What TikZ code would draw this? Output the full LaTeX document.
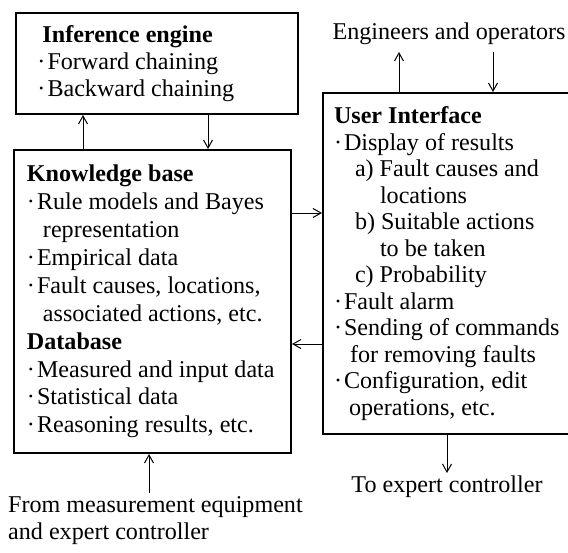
\documentclass[tikz,border=0pt]{standalone}
\usepackage{fontspec}
\setmainfont{Liberation Serif}
\usetikzlibrary{arrows.meta}
\newcommand{\bul}{·\hspace{2pt}}

\begin{document}
\begin{tikzpicture}[x=1pt,y=-1pt,
    box/.style={draw,line width=2pt,anchor=north west,align=flush left,inner ysep=0pt},
    arr/.style={-{Straight Barb[length=8pt,width=9pt]},line width=1pt},
    txt/.style={inner sep=0pt,font=\fontsize{24.1}{27}\selectfont}]
  \useasboundingbox (0,0) rectangle (568,552);
  % boxes
  \node[box,font=\fontsize{24.1}{27}\selectfont,inner xsep=21.5pt,text width=239pt,
        minimum width=282pt,minimum height=101pt] (ie) at (15,12)
    {\hspace*{5pt}\textbf{Inference engine}\\
     \bul Forward chaining\\
     \bul Backward chaining};
  \node[box,font=\fontsize{24.1}{27.9}\selectfont,inner xsep=13pt,text width=251pt,
        minimum width=277pt,minimum height=303pt] (kb) at (13,149)
    {\textbf{Knowledge base}\\
     \bul Rule models and Bayes\\
     \hspace*{16pt}representation\\
     \bul Empirical data\\
     \bul Fault causes, locations,\\
     \hspace*{16pt}associated actions, etc.\\
     \textbf{Database}\\
     \bul Measured and input data\\
     \bul Statistical data\\
     \bul Reasoning results, etc.};
  \node[box,font=\fontsize{24.1}{26.5}\selectfont,inner xsep=11pt,text width=260pt,
        minimum height=341pt] (ui) at (322,92)
    {\textbf{User Interface}\\
     \bul Display of results\\
     \hspace*{21pt}a) Fault causes and\\
     \hspace*{46pt}locations\\
     \hspace*{21pt}b) Suitable actions\\
     \hspace*{46pt}to be taken\\
     \hspace*{21pt}c) Probability\\
     \bul Fault alarm\\
     \bul Sending of commands\\
     \hspace*{16pt}for removing faults\\
     \bul Configuration, edit\\
     \hspace*{15pt}operations, etc.};
  % outside texts
  \node[txt,anchor=base] (eng) at (449,39) {Engineers and operators};
  \node[txt,anchor=base] (exp) at (447,492) {To expert controller};
  \node[txt,anchor=base west,align=flush left] (meas) at (8,539)
    {From measurement equipment\\and expert controller};
  % free ends
  \coordinate (kbup) at (83,0);
  \coordinate (kbdn) at (208,0);
  \coordinate (res) at (0,213);
  \coordinate (cmd) at (0,344);
  \coordinate (engup) at (399,52);
  \coordinate (engdn) at (493,52);
  \coordinate (toexp) at (447,473);
  \coordinate (frommeas) at (149,493);
  % connectors
  \draw[arr] (kb.north -| kbup) -- (ie.south -| kbup);
  \draw[arr] (ie.south -| kbdn) -- (kb.north -| kbdn);
  \draw[arr] (kb.east |- res) -- (ui.west |- res);
  \draw[arr] (ui.west |- cmd) -- (kb.east |- cmd);
  \draw[arr] (ui.north -| engup) -- (engup);
  \draw[arr] (engdn) -- (ui.north -| engdn);
  \draw[arr] (ui.south -| toexp) -- (toexp);
  \draw[arr] (frommeas) -- (kb.south -| frommeas);
\end{tikzpicture}
\end{document}
